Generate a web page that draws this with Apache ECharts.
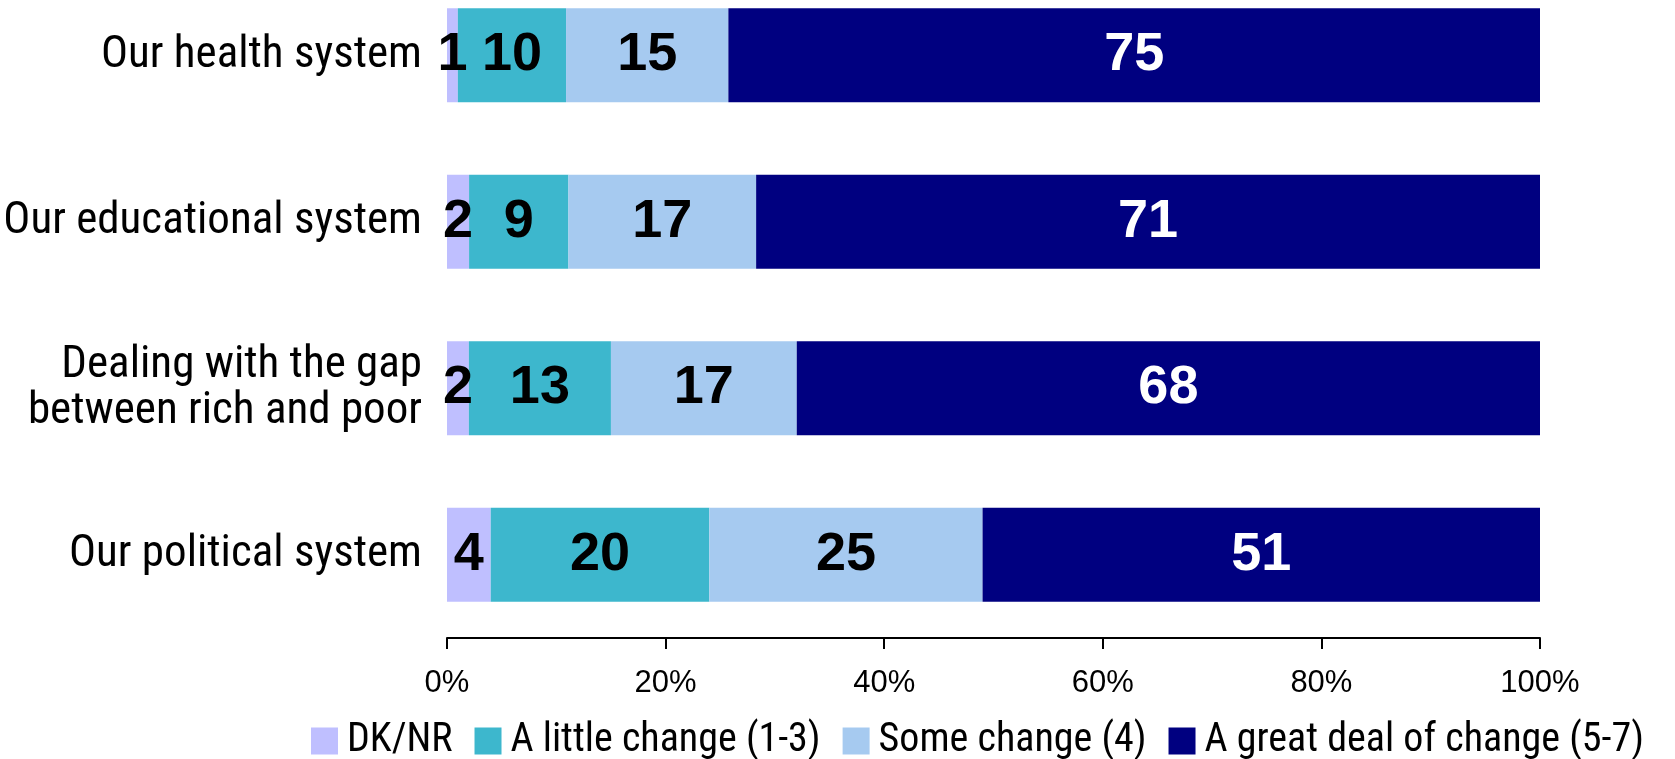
<!DOCTYPE html>
<html>
	<head>
		<meta charset="UTF-8">
		<title>Change needed</title>
		<script src="https://cdn.jsdelivr.net/npm/echarts@6/dist/echarts.min.js"></script>
		<style>
			html, body { margin: 0; padding: 0; background: #fff; }
			#main { width: 1675px; height: 759px; }
		</style>
	</head>
	<body>
		<div id="main"></div>
		<script type="text/javascript">
			// categories, top to bottom
			var categories = ['Our health system', 'Our educational system', 'Dealing with the gap\nbetween rich and poor', 'Our political system'];
			var seriesNames = ['DK/NR', 'A little change (1-3)', 'Some change (4)', 'A great deal of change (5-7)'];
			var dkNr = [1, 2, 2, 4];
			var littleChange = [10, 9, 13, 20];
			var someChange = [15, 17, 17, 25];
			var greatDeal = [75, 71, 68, 51];
			var xTicks = [0, 20, 40, 60, 80, 100];

			var colors = ['#BFBFFF', '#3DB7CD', '#A6CAF0', '#000080'];
			var labelColors = ['#000', '#000', '#000', '#fff'];
			// narrow look: Roboto with its condensed width
			var narrow = 'Roboto, sans-serif';

			var raw = [dkNr, littleChange, someChange, greatDeal];
			// 100% stacked: each row is scaled to its own total
			var totals = categories.map(function (c, i) {
				return dkNr[i] + littleChange[i] + someChange[i] + greatDeal[i];
			});

			var series = raw.map(function (arr, s) {
				return {
					name: seriesNames[s],
					type: 'bar',
					stack: 'total',
					barWidth: 94,
					itemStyle: { color: colors[s] },
					label: {
						show: true,
						position: 'inside',
						color: labelColors[s],
						fontFamily: "'Liberation Sans', Arial, sans-serif",
						fontWeight: 'bold',
						fontSize: 54,
						formatter: function (p) { return arr[p.dataIndex]; }
					},
					data: arr.map(function (v, i) { return v / totals[i] * 100; })
				};
			});

			var myChart = echarts.init(document.getElementById('main'));
			var option = {
				animation: false,
				grid: { left: 447, right: 135, top: -28, bottom: 121, outerBoundsMode: 'none', containLabel: false },
				legend: {
					data: seriesNames,
					left: 306,
					top: 716,
					icon: 'rect',
					itemWidth: 27,
					itemHeight: 27,
					itemGap: 22,
					textStyle: {
						fontFamily: narrow,
						fontStyle: 'condensed',
						fontSize: 40,
						color: '#000',
						padding: [0, 0, 0, 4]
					}
				},
				xAxis: {
					type: 'value',
					min: xTicks[0],
					max: xTicks[xTicks.length - 1],
					interval: 20,
					axisLine: { show: true, lineStyle: { color: '#000', width: 2 } },
					axisTick: { show: true, length: 11, lineStyle: { color: '#000', width: 2 } },
					splitLine: { show: false },
					axisLabel: {
						margin: 30,
						fontFamily: "'Liberation Sans', Arial, sans-serif",
						fontSize: 31,
						color: '#000',
						formatter: '{value}%'
					}
				},
				yAxis: {
					type: 'category',
					inverse: true,
					data: categories,
					axisLine: { show: false },
					axisTick: { show: false },
					axisLabel: {
						margin: 25,
						fontFamily: narrow,
						fontStyle: 'condensed',
						fontSize: 45,
						lineHeight: 46,
						color: '#000',
						align: 'right'
					}
				},
				series: series
			};
			myChart.setOption(option);
		</script>
	</body>
</html>
